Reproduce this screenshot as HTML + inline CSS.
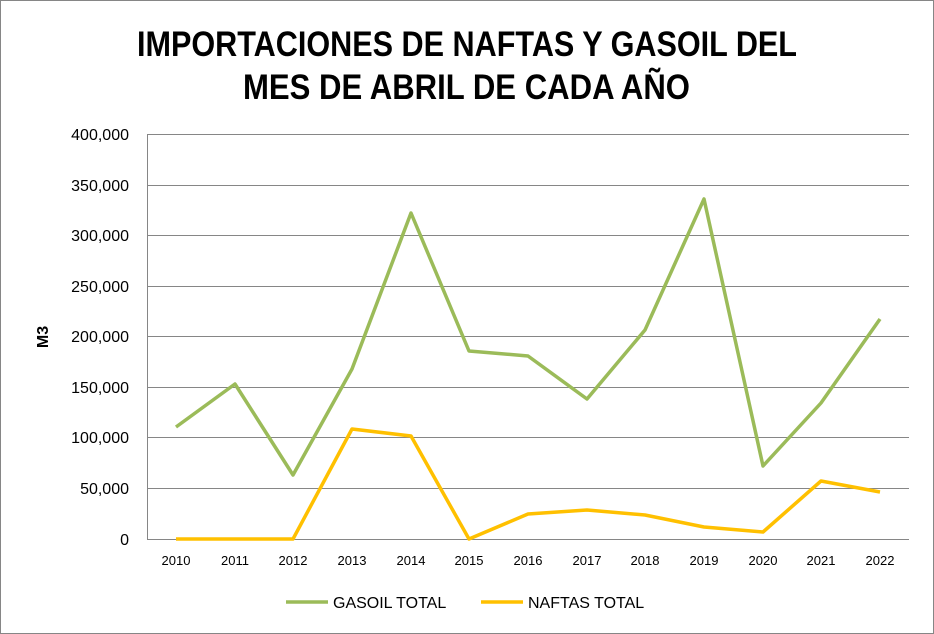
<!DOCTYPE html>
<html><head><meta charset="utf-8"><style>
body{margin:0;background:#fff;}
svg{display:block;font-family:"Liberation Sans",Arial,sans-serif;}
</style></head><body>
<svg width="934" height="634" viewBox="0 0 934 634" xmlns="http://www.w3.org/2000/svg">
<rect x="0.5" y="0.5" width="933" height="633" fill="#fff" stroke="#868686"/>
<text x="137" y="56" textLength="660" lengthAdjust="spacingAndGlyphs" font-size="35" font-weight="bold" fill="#000">IMPORTACIONES DE NAFTAS Y GASOIL DEL</text>
<text x="243" y="99" textLength="447" lengthAdjust="spacingAndGlyphs" font-size="35" font-weight="bold" fill="#000">MES DE ABRIL DE CADA AÑO</text>
<g stroke="#868686" stroke-width="1">
<line x1="147" y1="134.5" x2="909" y2="134.5"/>
<line x1="147" y1="185.5" x2="909" y2="185.5"/>
<line x1="147" y1="235.5" x2="909" y2="235.5"/>
<line x1="147" y1="286.5" x2="909" y2="286.5"/>
<line x1="147" y1="336.5" x2="909" y2="336.5"/>
<line x1="147" y1="387.5" x2="909" y2="387.5"/>
<line x1="147" y1="437.5" x2="909" y2="437.5"/>
<line x1="147" y1="488.5" x2="909" y2="488.5"/>
<line x1="147" y1="539.5" x2="909" y2="539.5"/>
<line x1="147.5" y1="134" x2="147.5" y2="539"/>
</g>
<g font-size="16" fill="#000" text-anchor="end">
<text x="129" y="140">400,000</text>
<text x="129" y="191">350,000</text>
<text x="129" y="241">300,000</text>
<text x="129" y="292">250,000</text>
<text x="129" y="342">200,000</text>
<text x="129" y="393">150,000</text>
<text x="129" y="443">100,000</text>
<text x="129" y="494">50,000</text>
<text x="129" y="545">0</text>
</g>
<text transform="translate(48,337) rotate(-90)" text-anchor="middle" font-size="16" font-weight="bold">M3</text>
<g font-size="13" text-anchor="middle" fill="#000">
<text x="176" y="565">2010</text><text x="235" y="565">2011</text><text x="293" y="565">2012</text>
<text x="352" y="565">2013</text><text x="411" y="565">2014</text><text x="469" y="565">2015</text>
<text x="528" y="565">2016</text><text x="587" y="565">2017</text><text x="645" y="565">2018</text>
<text x="704" y="565">2019</text><text x="763" y="565">2020</text><text x="821" y="565">2021</text>
<text x="880" y="565">2022</text>
</g>
<polyline fill="none" stroke="#9bbb59" stroke-width="3.5" stroke-linejoin="round" points="176,427 235,384 293,475 352,369 411,213 469,351 528,356 587,399 645,330 704,199 763,466 821,403 880,319"/>
<polyline fill="none" stroke="#ffc000" stroke-width="3.5" stroke-linejoin="round" points="176,539 235,539 293,539 352,429 411,436 469,539 528,514 587,510 645,515 704,527 763,532 821,481 880,492"/>
<line x1="286" y1="602" x2="328" y2="602" stroke="#9bbb59" stroke-width="3.5"/>
<text x="333" y="608" font-size="16">GASOIL TOTAL</text>
<line x1="481" y1="602" x2="523" y2="602" stroke="#ffc000" stroke-width="3.5"/>
<text x="528" y="608" font-size="16">NAFTAS TOTAL</text>
</svg>
</body></html>
